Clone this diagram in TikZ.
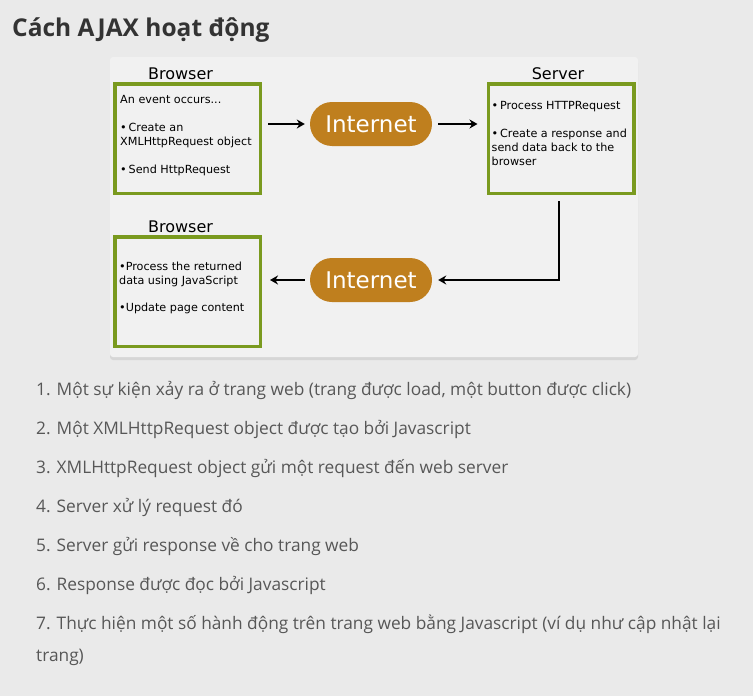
\documentclass[tikz,border=0pt]{standalone}
\usepackage{fontspec}
\setmainfont{Open Sans}
\newfontfamily\diagfont{DejaVu Sans}
\usepackage{tikz}
\usetikzlibrary{arrows.meta, positioning, shadows}
\definecolor{ajaxgreen}{HTML}{7A9A1F}
\definecolor{ajaxbrown}{HTML}{BF7F1E}
\definecolor{pagebg}{HTML}{EAEAEA}
\definecolor{panelbg}{HTML}{F1F1F1}
\definecolor{titlegray}{HTML}{333333}
\definecolor{listgray}{HTML}{575757}

\begin{document}
\begin{tikzpicture}[
  x=1pt, y=-1pt,
  panelbox/.style={
    rectangle, rounded corners=3pt, fill=panelbg, minimum width=528pt, minimum height=300pt,
    drop shadow={opacity=0.18, shadow xshift=0pt, shadow yshift=-3pt}
  },
  greenbox/.style={
    rectangle, draw=ajaxgreen, line width=3.5pt, fill=panelbg,
    minimum width=145.5pt, minimum height=109.5pt, inner sep=0pt
  },
  netpill/.style={
    rectangle, rounded corners=22pt, fill=ajaxbrown, text=white,
    minimum width=122pt, minimum height=44pt, inner sep=0pt,
    font=\diagfont\fontsize{23}{24}\selectfont
  },
  boxlabel/.style={font=\diagfont\fontsize{16}{18}\selectfont, inner sep=1pt},
  boxtext/.style={font=\diagfont\fontsize{11.2}{14}\selectfont, align=left, inner sep=0pt, anchor=north west},
  steptext/.style={font=\fontsize{17.3}{32}\selectfont, text=listgray, align=left, inner sep=0pt, anchor=base west},
  arr/.style={-{Stealth[length=8pt, width=9pt]}, line width=2pt, black},
  node distance=1pt,
]
% page and panel
\fill[pagebg] (0,0) rectangle (753,696);
\path[use as bounding box] (0,0) rectangle (753,696);
\node[font=\bfseries\fontsize{24.5}{26}\selectfont, text=titlegray, anchor=base west, inner sep=0pt] (title) at (12,36) {Cách AJAX hoạt động};
\node[panelbox] (panel) at (374,207) {};

% Top row: browser -> internet -> server
\node[greenbox] (browser1) at (187.5,138.5) {};
\node[netpill] (net1) at (371,124) {Internet};
\node[greenbox] (server) at (561,138.5) {};
\node[boxlabel, above=of browser1, xshift=-7pt] (browser1lbl) {Browser};
\node[boxlabel, above=of server, xshift=-3pt] (serverlbl) {Server};
\node[boxtext] (browser1txt) at ([shift={(7,13)}]browser1.north west) {An event occurs...\\[14pt]•\,Create an\\XMLHttpRequest object\\[14pt]•\,Send HttpRequest};
\node[boxtext] (servertxt) at ([shift={(5,19)}]server.north west) {•\,Process HTTPRequest\\[14pt]•\,Create a response and\\send data back to the\\browser};

% Bottom row: server -> internet -> browser
\node[netpill] (net2) at (371,280) {Internet};
\node[greenbox] (browser2) at (187.5,291.5) {};
\node[boxlabel, above=of browser2, xshift=-7pt] (browser2lbl) {Browser};
\node[boxtext] (browser2txt) at ([shift={(6,27)}]browser2.north west) {•Process the returned\\data using JavaScript\\[13pt]•Update page content};

% arrows
\draw[arr, shorten <=6pt, shorten >=5pt] (browser1.east |- net1.west) -- (net1);
\draw[arr, shorten <=6pt, shorten >=9pt] (net1) -- (server.west |- net1.east);
\draw[arr, shorten <=6pt, shorten >=6pt] ([xshift=-2pt]server.south) |- (net2.east);
\draw[arr, shorten <=5pt, shorten >=8pt] (net2) -- (browser2.east |- net2.west);

% steps
\node[steptext] (step1) at (36,395) {1. Một sự kiện xảy ra ở trang web (trang được load, một button được click)};
\node[steptext] (step2) at (36,434) {2. Một XMLHttpRequest object được tạo bởi Javascript};
\node[steptext] (step3) at (36,473) {3. XMLHttpRequest object gửi một request đến web server};
\node[steptext] (step4) at (36,512) {4. Server xử lý request đó};
\node[steptext] (step5) at (36,551) {5. Server gửi response về cho trang web};
\node[steptext] (step6) at (36,590) {6. Response được đọc bởi Javascript};
\node[steptext] (step7) at (36,661) {7. Thực hiện một số hành động trên trang web bằng Javascript (ví dụ như cập nhật lại\\trang)};
\end{tikzpicture}
\end{document}
